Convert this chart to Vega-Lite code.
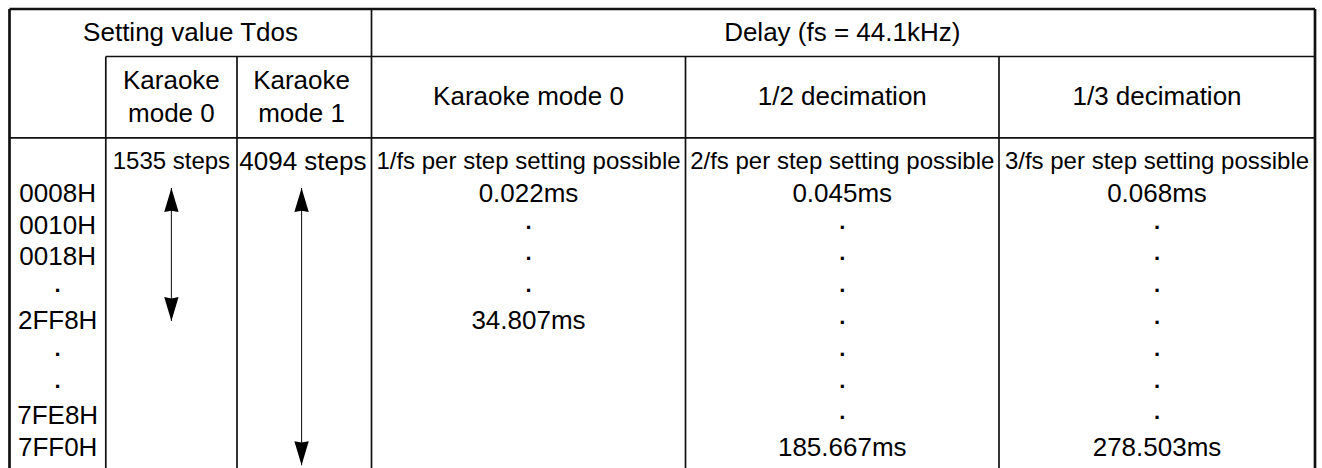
{
  "$schema": "https://vega.github.io/schema/vega-lite/v6.json",
  "width": 1322,
  "height": 468,
  "padding": 0,
  "autosize": {"type": "none"},
  "background": "white",
  "config": {"view": {"stroke": null}, "font": "Liberation Sans", "text": {"font": "Liberation Sans"}},
  "datasets": {
    "grid": [
      {"col": 0, "col2": 6, "row": -2.5, "row2": -2.5, "kind": "outer"},
      {"col": 1, "col2": 6, "row": -1.5, "row2": -1.5, "kind": "inner"},
      {"col": 0, "col2": 6, "row": -0.5, "row2": -0.5, "kind": "inner"},
      {"col": 0, "col2": 0, "row": -2.5, "row2": 9.62, "kind": "outer"},
      {"col": 1, "col2": 1, "row": -1.5, "row2": 9.62, "kind": "inner"},
      {"col": 2, "col2": 2, "row": -1.5, "row2": 9.62, "kind": "inner"},
      {"col": 3, "col2": 3, "row": -2.5, "row2": 9.62, "kind": "inner"},
      {"col": 4, "col2": 4, "row": -1.5, "row2": 9.62, "kind": "inner"},
      {"col": 5, "col2": 5, "row": -1.5, "row2": 9.62, "kind": "inner"},
      {"col": 6, "col2": 6, "row": -2.5, "row2": 9.62, "kind": "outer"}
    ],
    "arrows": [
      {"col": 1.5, "row": 0.82, "row2": 5.0},
      {"col": 2.48, "row": 0.82, "row2": 9.53}
    ],
    "heads": [
      {"col": 1.5, "row": 0.82, "dir": "up"},
      {"col": 1.5, "row": 5.0, "dir": "down"},
      {"col": 2.48, "row": 0.82, "dir": "up"},
      {"col": 2.48, "row": 9.53, "dir": "down"}
    ],
    "cells": [
      {"col": 1.646, "row": -2, "text": "Setting value Tdos", "role": "cell"},
      {"col": 4.5, "row": -2, "text": "Delay (fs = 44.1kHz)", "role": "cell"},
      {"col": 1.5, "row": -1, "text": "Karaoke\nmode 0", "role": "head2"},
      {"col": 2.48, "row": -1, "text": "Karaoke\nmode 1", "role": "head2"},
      {"col": 3.5, "row": -1, "text": "Karaoke mode 0", "role": "cell"},
      {"col": 4.5, "row": -1, "text": "1/2 decimation", "role": "cell"},
      {"col": 5.5, "row": -1, "text": "1/3 decimation", "role": "cell"},
      {"col": 1.5, "row": 0, "text": "1535 steps", "role": "note"},
      {"col": 2.49, "row": 0, "text": "4094 steps", "role": "cell"},
      {"col": 3.5, "row": 0, "text": "1/fs per step setting possible", "role": "note"},
      {"col": 4.5, "row": 0, "text": "2/fs per step setting possible", "role": "note"},
      {"col": 5.5, "row": 0, "text": "3/fs per step setting possible", "role": "note"},
      {"col": 0.5, "row": 1, "text": "0008H", "role": "cell"},
      {"col": 0.5, "row": 2, "text": "0010H", "role": "cell"},
      {"col": 0.5, "row": 3, "text": "0018H", "role": "cell"},
      {"col": 0.5, "row": 4, "text": ".", "role": "dot"},
      {"col": 0.5, "row": 5, "text": "2FF8H", "role": "cell"},
      {"col": 0.5, "row": 6, "text": ".", "role": "dot"},
      {"col": 0.5, "row": 7, "text": ".", "role": "dot"},
      {"col": 0.5, "row": 8, "text": "7FE8H", "role": "cell"},
      {"col": 0.5, "row": 9, "text": "7FF0H", "role": "cell"},
      {"col": 3.5, "row": 1, "text": "0.022ms", "role": "cell"},
      {"col": 3.5, "row": 2, "text": ".", "role": "dot"},
      {"col": 3.5, "row": 3, "text": ".", "role": "dot"},
      {"col": 3.5, "row": 4, "text": ".", "role": "dot"},
      {"col": 3.5, "row": 5, "text": "34.807ms", "role": "cell"},
      {"col": 4.5, "row": 1, "text": "0.045ms", "role": "cell"},
      {"col": 4.5, "row": 2, "text": ".", "role": "dot"},
      {"col": 4.5, "row": 3, "text": ".", "role": "dot"},
      {"col": 4.5, "row": 4, "text": ".", "role": "dot"},
      {"col": 4.5, "row": 5, "text": ".", "role": "dot"},
      {"col": 4.5, "row": 6, "text": ".", "role": "dot"},
      {"col": 4.5, "row": 7, "text": ".", "role": "dot"},
      {"col": 4.5, "row": 8, "text": ".", "role": "dot"},
      {"col": 4.5, "row": 9, "text": "185.667ms", "role": "cell"},
      {"col": 5.5, "row": 1, "text": "0.068ms", "role": "cell"},
      {"col": 5.5, "row": 2, "text": ".", "role": "dot"},
      {"col": 5.5, "row": 3, "text": ".", "role": "dot"},
      {"col": 5.5, "row": 4, "text": ".", "role": "dot"},
      {"col": 5.5, "row": 5, "text": ".", "role": "dot"},
      {"col": 5.5, "row": 6, "text": ".", "role": "dot"},
      {"col": 5.5, "row": 7, "text": ".", "role": "dot"},
      {"col": 5.5, "row": 8, "text": ".", "role": "dot"},
      {"col": 5.5, "row": 9, "text": "278.503ms", "role": "cell"}
    ]
  },
  "encoding": {
    "x": {"field": "col", "type": "quantitative", "axis": null,
      "scale": {"domain": [0, 1, 2, 3, 4, 5, 6], "range": [9.5, 105.8, 237, 371.5, 685.5, 999, 1315], "zero": false, "nice": false}},
    "y": {"field": "row", "type": "quantitative", "axis": null,
      "scale": {"domain": [-2.5, -1.5, -0.5, 0, 9, 9.62], "range": [9, 56.5, 137.8, 162, 448.2, 468], "zero": false, "nice": false}}
  },
  "layer": [
    {
      "data": {"name": "grid"},
      "mark": {"type": "rule", "color": "#111"},
      "encoding": {
        "x2": {"field": "col2"},
        "y2": {"field": "row2"},
        "strokeWidth": {"field": "kind", "type": "nominal", "legend": null,
          "scale": {"domain": ["outer", "inner"], "range": [2.7, 1.7]}}
      }
    },
    {
      "data": {"name": "arrows"},
      "mark": {"type": "rule", "color": "#222", "strokeWidth": 1.1},
      "encoding": {"y2": {"field": "row2"}}
    },
    {
      "data": {"name": "heads"},
      "mark": {"type": "point", "filled": true, "size": 576, "color": "#000", "opacity": 1, "strokeWidth": 0},
      "encoding": {
        "shape": {"field": "dir", "type": "nominal", "legend": null,
          "scale": {"domain": ["up", "down"], "range": ["M0,0L-0.6,2L0,1.88L0.6,2Z", "M0,0L-0.6,-2L0,-1.88L0.6,-2Z"]}}
      }
    },
    {
      "data": {"name": "cells"},
      "transform": [{"filter": "datum.role === 'cell'"}],
      "mark": {"type": "text", "fontSize": 26, "align": "center", "baseline": "middle", "color": "#000"},
      "encoding": {"text": {"field": "text", "type": "nominal"}}
    },
    {
      "data": {"name": "cells"},
      "transform": [{"filter": "datum.role === 'head2'"}],
      "mark": {"type": "text", "fontSize": 26, "align": "center", "baseline": "middle", "lineBreak": "\n", "lineHeight": 33, "dy": -16.5, "color": "#000"},
      "encoding": {"text": {"field": "text", "type": "nominal"}}
    },
    {
      "data": {"name": "cells"},
      "transform": [{"filter": "datum.role === 'note'"}],
      "mark": {"type": "text", "fontSize": 24, "align": "center", "baseline": "middle", "color": "#000"},
      "encoding": {"text": {"field": "text", "type": "nominal"}}
    },
    {
      "data": {"name": "cells"},
      "transform": [{"filter": "datum.role === 'dot'"}],
      "mark": {"type": "text", "fontSize": 22, "align": "center", "baseline": "middle", "dy": -4, "fontWeight": "bold", "color": "#000"},
      "encoding": {"text": {"field": "text", "type": "nominal"}}
    }
  ]
}
